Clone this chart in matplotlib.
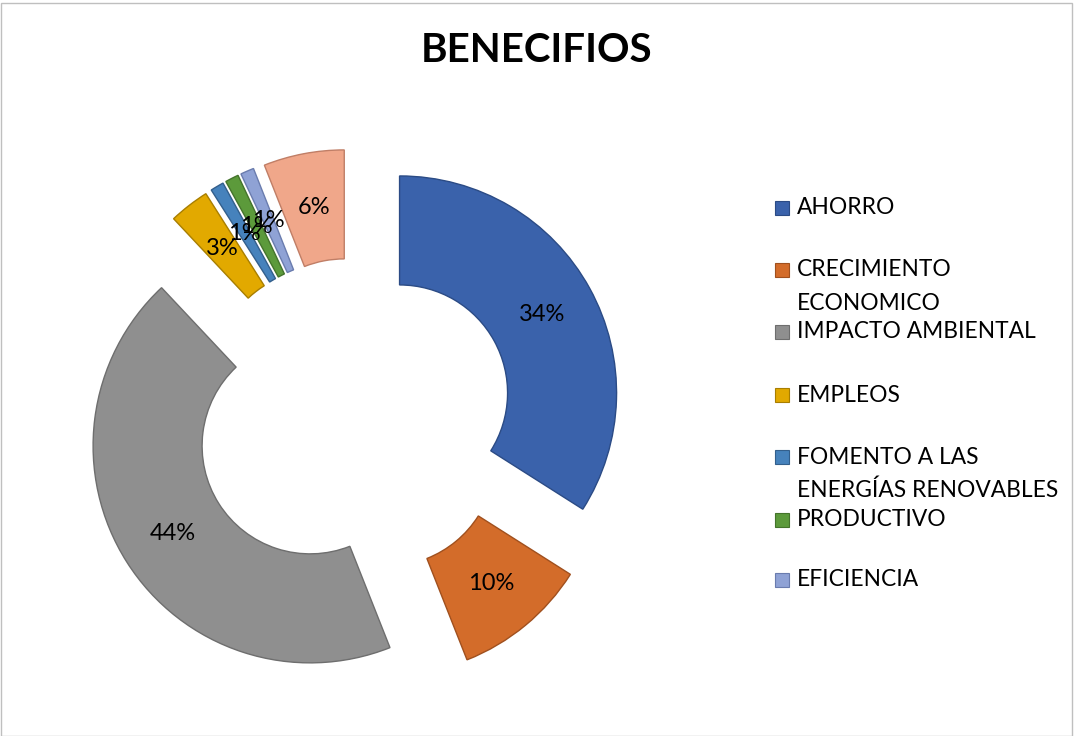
import matplotlib
matplotlib.use("Agg")
import matplotlib.pyplot as plt
from matplotlib.patches import Rectangle

plt.rcParams['font.family'] = ['Lato', 'DejaVu Sans']

# ---- data ----
categories = ["AHORRO", "CRECIMIENTO ECONOMICO", "IMPACTO AMBIENTAL", "EMPLEOS",
              "FOMENTO A LAS ENERGÍAS RENOVABLES", "PRODUCTIVO", "EFICIENCIA", ""]
legend_labels = ["AHORRO", "CRECIMIENTO\nECONOMICO", "IMPACTO AMBIENTAL", "EMPLEOS",
                 "FOMENTO A LAS\nENERGÍAS RENOVABLES", "PRODUCTIVO", "EFICIENCIA"]
values = [34, 10, 44, 3, 1, 1, 1, 6]
colors = ["#3A62AB", "#D36C2A", "#8F8F8F", "#E2A900", "#4682BC", "#5C9A3B", "#8FA2D5", "#F0A78A"]
edges = ["#2B4B85", "#A0501E", "#6E6E6E", "#A87E00", "#335F8C", "#44742B", "#6A7CAE", "#C07E66"]
title = "BENECIFIOS"

W, H = 1074, 736
fig = plt.figure(figsize=(W / 100, H / 100), dpi=100)
ax = fig.add_axes([0, 0, 1, 1])

R = 217
ring = 109
explode_px = 52
wedges, texts, autotexts = ax.pie(
    values, radius=R, center=(354, H - 418), startangle=90, counterclock=False,
    explode=[explode_px] * len(values), colors=colors,
    autopct='%1.0f%%', pctdistance=0.75,
    wedgeprops=dict(width=ring, linewidth=1.0),
    textprops=dict(fontsize=17, color='black'))
for w, ec in zip(wedges, edges):
    w.set_edgecolor(ec)

ax.set_xlim(0, W)
ax.set_ylim(0, H)
ax.set_aspect('equal')
ax.axis('off')

fig.text(537 / W, 1 - 50 / H, title, ha='center', va='center',
         fontsize=29, fontweight='bold')

# legend (Excel style, fixed slot spacing)
slot_y = [208, 270, 332, 395, 457, 520, 580]
for lab, col, ec, y in zip(legend_labels, colors, edges, slot_y):
    fig.patches.append(Rectangle((775 / W, 1 - (y + 7) / H), 14 / W, 14 / H,
                                 transform=fig.transFigure, facecolor=col,
                                 edgecolor=ec, linewidth=0.8))
    for i, ln in enumerate(lab.split('\n')):
        fig.text(797 / W, 1 - (y + i * 33) / H, ln, ha='left', va='center', fontsize=16.4)

# outer border
fig.patches.append(Rectangle((0.5 / W, 0.5 / H), (W - 3) / W, (H - 3) / H,
                             transform=fig.transFigure, fill=False,
                             edgecolor='#BFBFBF', linewidth=1))

fig.savefig("out.png", dpi=100)
